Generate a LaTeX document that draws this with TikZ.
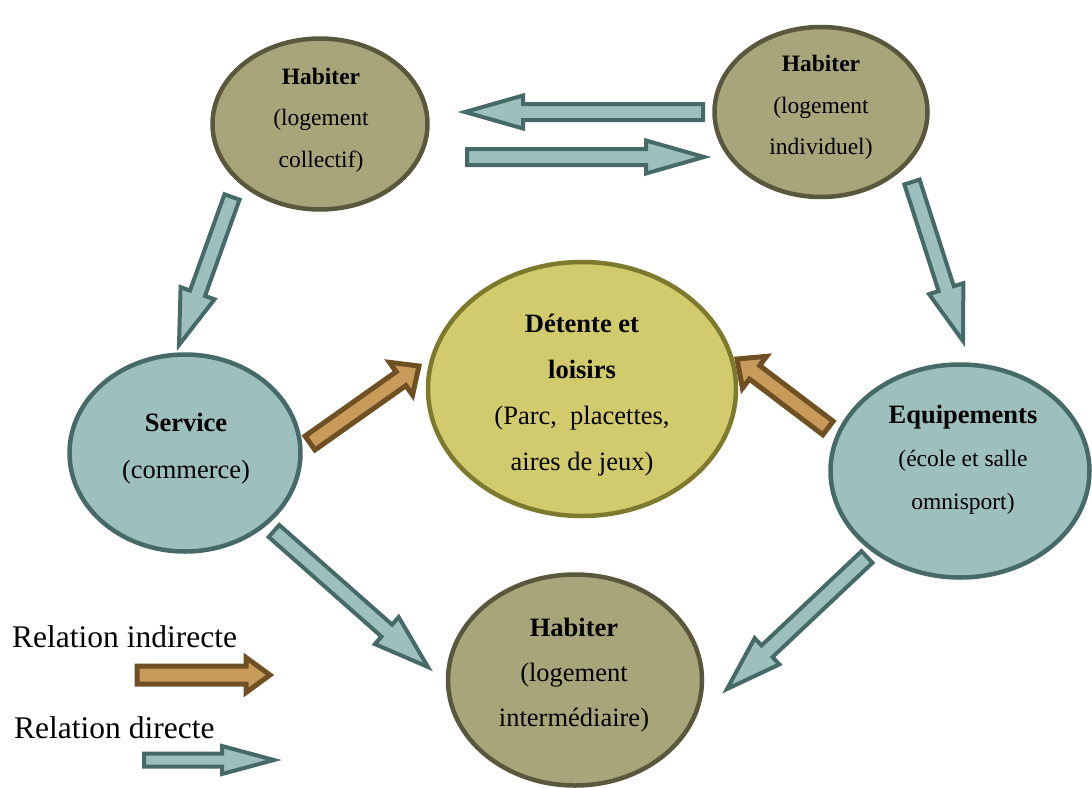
\documentclass[tikz,border=0pt]{standalone}
\usepackage{fontspec}
\setmainfont{Liberation Serif}
\usetikzlibrary{shapes.geometric,calc}
\definecolor{tanfill}{HTML}{A9A57B}
\definecolor{tanline}{HTML}{5A583C}
\definecolor{yelfill}{HTML}{D2CB6E}
\definecolor{yelline}{HTML}{7D7A2D}
\definecolor{tealfill}{HTML}{9DBFBD}
\definecolor{tealline}{HTML}{466A68}
\definecolor{brfill}{HTML}{C99B5A}
\definecolor{brline}{HTML}{6E5023}
\tikzset{
  blob/.style={ellipse, inner sep=0pt, line width=4.5pt},
  tanblob/.style={blob, draw=tanline, fill=tanfill},
  yelblob/.style={blob, draw=yelline, fill=yelfill},
  tealblob/.style={blob, draw=tealline, fill=tealfill},
  direct/.style={draw=tealline, fill=tealfill, line width=4pt},
  indirect/.style={draw=brline, fill=brfill, line width=5pt},
  smalltxt/.style={align=center, font=\fontsize{23.5}{41.5}\selectfont},
  bigtxt/.style={align=center, font=\fontsize{26.5}{46}\selectfont},
  legtxt/.style={anchor=base west, inner sep=0pt, font=\fontsize{31.5}{36}\selectfont},
}
% #1 style, #2 tail, #3 tip, #4 shaft half width, #5 head half width, #6 head length
\newcommand\blockarrow[6]{%
  \draw[#1] ($(#2)!#4!90:(#3)$)
    -- ($(#3)!#6!(#2)!#4!-90:(#2)$)
    -- ($(#3)!#6!(#2)!#5!-90:(#2)$)
    -- (#3)
    -- ($(#3)!#6!(#2)!#5!90:(#2)$)
    -- ($(#3)!#6!(#2)!#4!90:(#2)$)
    -- ($(#2)!#4!-90:(#3)$) -- cycle;}
\begin{document}
\begin{tikzpicture}[x=1pt,y=1pt]
\useasboundingbox (0,0) rectangle (1092,-787);
% ellipses
\node[tanblob, minimum width=215pt, minimum height=171pt] (hcol) at (320,-124) {};
\node[tanblob, minimum width=213pt, minimum height=170pt] (hind) at (821,-112) {};
\node[yelblob, minimum width=308pt, minimum height=254pt] (det) at (582,-389) {};
\node[tealblob, minimum width=231pt, minimum height=197pt] (serv) at (185,-453) {};
\node[tealblob, minimum width=259pt, minimum height=213pt] (equip) at (960,-471) {};
\node[tanblob, minimum width=254pt, minimum height=211pt] (hint) at (575,-680) {};
% texts
\node[smalltxt] (thcol) at (321,-120) {\textbf{Habiter}\\(logement\\collectif)};
\node[smalltxt] (thind) at (821,-107.5) {\textbf{Habiter}\\(logement\\individuel)};
\node[bigtxt] (tdet) at (582,-395) {\textbf{Détente et}\\\textbf{loisirs}\\(Parc,~ placettes,\\aires de jeux)};
\node[bigtxt, font=\fontsize{26.5}{47}\selectfont] (tserv) at (186,-449) {\textbf{Service}\\(commerce)};
\node[bigtxt, font=\fontsize{26.5}{43}\selectfont] (tequip) at (963,-460) {\textbf{Equipements}\\\fontsize{23.5}{41}\selectfont(école et salle\\\fontsize{23.5}{41}\selectfont omnisport)};
\node[bigtxt, font=\fontsize{26.5}{45}\selectfont] (thint) at (574,-675) {\textbf{Habiter}\\(logement\\intermédiaire)};
% arrow end points
\coordinate (d1a) at (703,-112); \coordinate (d1b) at (465,-112);
\coordinate (d2a) at (467,-157); \coordinate (d2b) at (704,-157);
\coordinate (d3a) at (232,-197); \coordinate (d3b) at (179,-345);
\coordinate (d4a) at (912,-182); \coordinate (d4b) at (963,-341);
\coordinate (d5a) at (274,-531); \coordinate (d5b) at (428,-667);
\coordinate (d6a) at (867,-557); \coordinate (d6b) at (727,-689);
\coordinate (i1a) at (310,-443); \coordinate (i1b) at (419,-366);
\coordinate (i2a) at (828,-428); \coordinate (i2b) at (737,-359);
\coordinate (lia) at (137,-675); \coordinate (lib) at (270,-675);
\coordinate (lda) at (144,-760); \coordinate (ldb) at (274,-760);
% direct arrows
\blockarrow{direct}{d1a}{d1b}{8pt}{16.5pt}{58pt}
\blockarrow{direct}{d2a}{d2b}{8pt}{16.5pt}{58pt}
\blockarrow{direct}{d3a}{d3b}{8pt}{18pt}{55pt}
\blockarrow{direct}{d4a}{d4b}{8pt}{18pt}{55pt}
\blockarrow{direct}{d5a}{d5b}{8pt}{18pt}{55pt}
\blockarrow{direct}{d6a}{d6b}{8pt}{18pt}{55pt}
% indirect arrows
\blockarrow{indirect}{i1a}{i1b}{8.5pt}{20pt}{22pt}
\blockarrow{indirect}{i2a}{i2b}{8.5pt}{20pt}{22pt}
% legend
\node[legtxt] (lgi) at (12,-647) {Relation indirecte};
\node[legtxt] (lgd) at (14,-738) {Relation directe};
\blockarrow{indirect}{lia}{lib}{9pt}{17.5pt}{24pt}
\blockarrow{direct}{lda}{ldb}{6.5pt}{14pt}{52pt}
\end{tikzpicture}
\end{document}
